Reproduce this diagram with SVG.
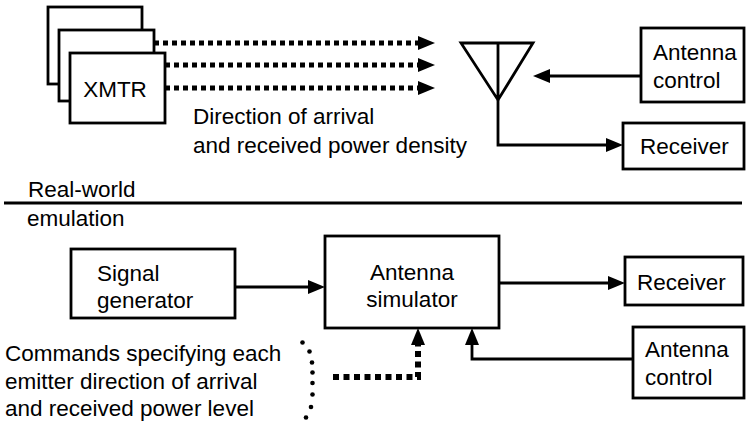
<svg xmlns="http://www.w3.org/2000/svg" width="747" height="424" viewBox="0 0 747 424">
<style>
.box{fill:#fff;stroke:#000;stroke-width:2.8}
.t{font-family:"Liberation Sans",Arial,sans-serif;font-size:22.5px;fill:#000}
.m{text-anchor:middle}
.ln{fill:none;stroke:#000;stroke-width:2.8}
.dot{fill:none;stroke:#000;stroke-width:5;stroke-dasharray:5 4}
.dot2{fill:none;stroke:#000;stroke-width:6;stroke-dasharray:6 4.5}
</style>
<defs>
<marker id="ah" markerUnits="userSpaceOnUse" markerWidth="18" markerHeight="16" refX="0" refY="7" orient="auto" overflow="visible">
<path d="M0,0 L17,7 L0,14 z" fill="#000"/>
</marker>
</defs>
<rect width="747" height="424" fill="#fff"/>

<g id="xmtr">
<rect class="box" x="48" y="7" width="94" height="77"/>
<rect class="box" x="59" y="30" width="95" height="71"/>
<rect class="box" x="70" y="53" width="95" height="70"/>
<text class="t m" x="115" y="97">XMTR</text>
</g>

<g id="antenna">
<path class="ln" d="M461,43 H533 L498,100 Z M498,43 V100"/>
</g>

<g id="antenna-control-top">
<rect class="box" x="641" y="28" width="103" height="74"/>
<text class="t" x="653" y="60">Antenna</text>
<text class="t" x="653" y="88">control</text>
</g>

<g id="receiver-top">
<rect class="box" x="623" y="123" width="121" height="46"/>
<text class="t" x="640" y="154">Receiver</text>
</g>

<g id="labels">
<text class="t" x="193" y="124">Direction of arrival</text>
<text class="t" x="193" y="153">and received power density</text>
<text class="t" x="28" y="197">Real-world</text>
<text class="t" x="27" y="226">emulation</text>
<text class="t" x="5" y="361">Commands specifying each</text>
<text class="t" x="5" y="389">emitter direction of arrival</text>
<text class="t" x="5" y="416">and received power level</text>
</g>

<g id="signal-generator">
<rect class="box" x="71" y="249" width="164" height="69"/>
<text class="t" x="97" y="281">Signal</text>
<text class="t" x="97" y="308">generator</text>
</g>

<g id="antenna-simulator">
<rect class="box" x="325" y="236" width="174" height="92"/>
<text class="t m" x="412" y="280">Antenna</text>
<text class="t m" x="412" y="307">simulator</text>
</g>

<g id="receiver-bottom">
<rect class="box" x="625" y="257" width="118" height="48"/>
<text class="t" x="637" y="290">Receiver</text>
</g>

<g id="antenna-control-bottom">
<rect class="box" x="633" y="327" width="111" height="71"/>
<text class="t" x="645" y="357">Antenna</text>
<text class="t" x="645" y="385">control</text>
</g>

<g id="connectors">
<path class="dot" d="M154,43 H418" marker-end="url(#ah)"/>
<path class="dot" d="M165,65 H418" marker-end="url(#ah)"/>
<path class="dot" d="M165,88 H418" marker-end="url(#ah)"/>
<path class="ln" d="M641,76 H550" marker-end="url(#ah)"/>
<path class="ln" d="M498,100 V145 H606" marker-end="url(#ah)"/>
<path class="ln" d="M4,203 H742"/>
<path class="ln" d="M235,287 H308" marker-end="url(#ah)"/>
<path class="ln" d="M499,283 H608" marker-end="url(#ah)"/>
<path class="ln" d="M633,359 H472 V345" marker-end="url(#ah)"/>
<path class="dot2" d="M333,377 H418 V345" marker-end="url(#ah)"/>
<g fill="#000">
<circle cx="302.5" cy="342.5" r="2.3"/>
<circle cx="309.5" cy="351.5" r="2.3"/>
<circle cx="312" cy="362.5" r="2.3"/>
<circle cx="312.5" cy="372.5" r="2.3"/>
<circle cx="312.5" cy="383" r="2.3"/>
<circle cx="312.5" cy="394.5" r="2.3"/>
<circle cx="311" cy="407" r="2.3"/>
<circle cx="306" cy="417.5" r="2.3"/>
</g>
</g>
</svg>
